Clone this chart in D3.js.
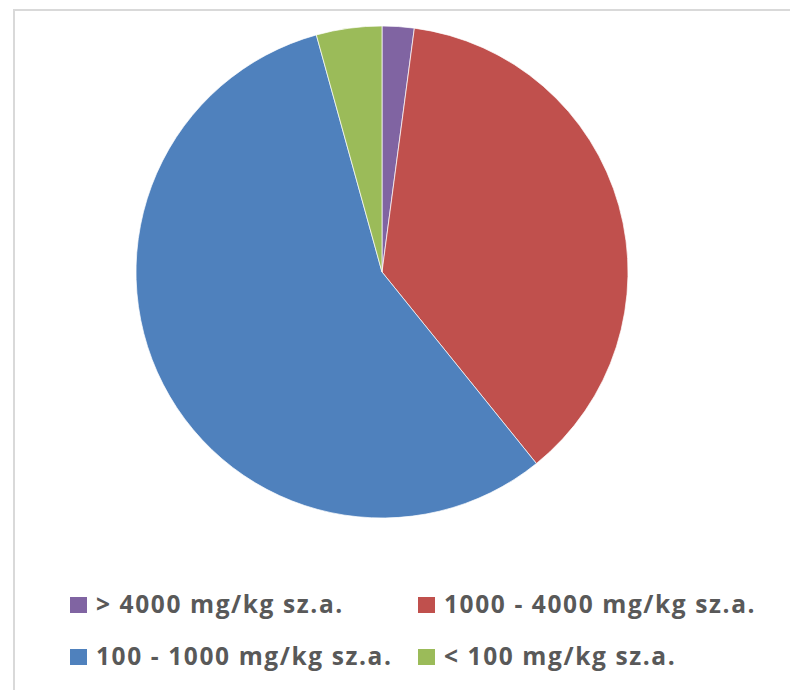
<!DOCTYPE html>
<html>
<head>
<meta charset="utf-8">
<script src="https://cdn.jsdelivr.net/npm/d3@7"></script>
<style>
  body { margin: 0; background: #fff; }
  svg { display: block; }
</style>
</head>
<body>
<svg id="chart"></svg>
<script>
// slice labels and shares (percent), clockwise from 12 o'clock
const categories = ["> 4000 mg/kg sz.a.", "1000 - 4000 mg/kg sz.a.", "100 - 1000 mg/kg sz.a.", "< 100 mg/kg sz.a."];
const shares = [2.1, 37.1, 56.5, 4.3];
const colors = ["#8064a2", "#c0504d", "#4f81bd", "#9bbb59"];
// legend order: two rows of two
const legendOrder = [0, 1, 2, 3];

const W = 790, H = 690;
const cx = 382, cy = 272, r = 246;

const svg = d3.select("#chart").attr("width", W).attr("height", H);

// chart frame
svg.append("rect")
    .attr("x", 14).attr("y", 10)
    .attr("width", W).attr("height", H)
    .attr("fill", "#fff")
    .attr("stroke", "#d9d9d9")
    .attr("stroke-width", 2);

const data = categories.map((c, i) => ({ name: c, value: shares[i], color: colors[i] }));

const pie = d3.pie().sort(null).value(d => d.value);
const arc = d3.arc().innerRadius(0).outerRadius(r);

svg.append("g")
    .attr("transform", `translate(${cx},${cy})`)
    .selectAll("path")
    .data(pie(data))
    .enter()
    .append("path")
    .attr("d", arc)
    .attr("fill", d => d.data.color)
    .attr("stroke", "#fff")
    .attr("stroke-width", 0.7);

// legend
const colX = [70, 418];
const rowY = [597, 649];
const legend = svg.append("g");
legendOrder.forEach((idx, k) => {
    const x = colX[k % 2], y = rowY[Math.floor(k / 2)];
    legend.append("rect")
        .attr("x", x).attr("y", y)
        .attr("width", 17).attr("height", 16)
        .attr("fill", colors[idx]);
    legend.append("text")
        .attr("x", x + 26).attr("y", y + 16)
        .text(categories[idx])
        .attr("font-family", "'Open Sans', sans-serif")
        .attr("font-weight", "bold")
        .attr("font-size", "24.5px")
        .attr("letter-spacing", "1.6px")
        .attr("fill", "#595959");
});
</script>
</body>
</html>
